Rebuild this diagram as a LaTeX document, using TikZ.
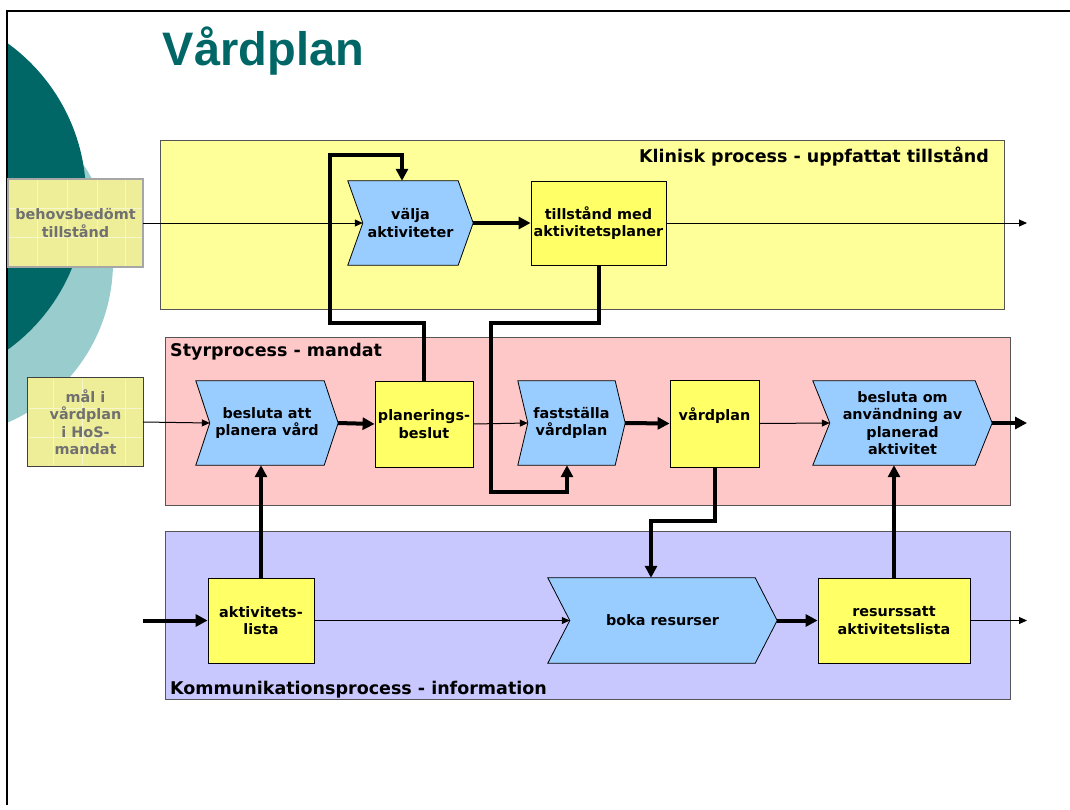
\documentclass[tikz,border=0pt]{standalone}
\usepackage{fontspec}
\setmainfont{DejaVu Sans}
\newfontfamily\titlefont{Liberation Sans}
\usetikzlibrary{arrows.meta,calc}
\pgfdeclarelayer{back}
\pgfdeclarelayer{mid}
\pgfsetlayers{back,mid,main}

\definecolor{tealdark}{HTML}{006666}
\definecolor{teallight}{HTML}{99CCCC}
\definecolor{laneY}{HTML}{FFFF99}
\definecolor{laneP}{HTML}{FFC8C8}
\definecolor{laneB}{HTML}{C8C8FF}
\definecolor{procB}{HTML}{99CCFF}
\definecolor{boxY}{HTML}{FFFF66}
\definecolor{inputY}{HTML}{EEEE99}
\definecolor{inputgrid}{HTML}{F6F6CC}
\definecolor{intext}{HTML}{707070}
\definecolor{lanebd}{HTML}{555555}

% chevron outline around a named node: #1 node, #2 notch depth
\newcommand\chevshape[2]{%
  \filldraw[fill=procB, draw=black, line width=0.8pt]
    (#1.north west) -- ($(#1.north east)+(-#2,0)$) -- (#1.east)
    -- ($(#1.south east)+(-#2,0)$) -- (#1.south west)
    -- ($(#1.west)+(#2,0)$) -- cycle;}

\begin{document}
\begin{tikzpicture}[x=1pt,y=-1pt,
  boxtext/.style={font=\bfseries\fontsize{14.4}{17.4}\selectfont, align=center, inner sep=0pt},
  doc/.style={boxtext, draw=black, line width=0.8pt, fill=boxY},
  proc/.style={boxtext},
  inbox/.style={boxtext, text=intext},
  lanebox/.style={draw=lanebd, line width=1pt},
  lanetitle/.style={font=\bfseries\fontsize{17.5}{20}\selectfont, inner sep=0pt},
  flowthick/.style={line width=4pt, -{Triangle[length=12pt,width=12pt]}},
  flowthin/.style={line width=1pt, -{Triangle[length=8pt,width=7pt]}},
]
\useasboundingbox (0,0) rectangle (1070,809);

% background: circles, frame and swimlanes
\begin{pgfonlayer}{back}
  \begin{scope}
    \clip (7,11) rectangle (1070,809);
    \fill[teallight] (-62,262) circle (175);
    \fill[tealdark] (-103,196.5) circle (189);
  \end{scope}
  \draw[line width=1.2pt] (1070,11) -- (7,11) -- (7,805);
  \path[lanebox, fill=laneY] (160,140) rectangle (1004,309);
  \path[lanebox, fill=laneP] (165,337) rectangle (1010,505);
  \path[lanebox, fill=laneB] (165,531) rectangle (1010,699);
\end{pgfonlayer}

% title
\node[font=\titlefont\bfseries\fontsize{47}{50}\selectfont, text=tealdark, anchor=base, inner sep=0pt]
  (title) at (263.5,65) {Vårdplan};

% lane titles
\node[lanetitle, anchor=base east] (lk) at (989,162) {Klinisk process - uppfattat tillstånd};
\node[lanetitle, anchor=base west] (ls) at (170,356) {Styrprocess - mandat};
\node[lanetitle, anchor=base west] (lc) at (170,694) {Kommunikationsprocess - information};

% input boxes
\node[inbox, minimum width=135, minimum height=88] (behov) at (75.5,223) {behovsbedömt\\tillstånd};
\node[inbox, minimum width=115, minimum height=88] (mal) at (85.5,422) {mål i\\vårdplan\\i HoS-\\mandat};

% clinical lane
\node[proc, minimum width=125, minimum height=84] (valja) at (410.5,223) {välja\\aktiviteter};
\node[doc, minimum width=135, minimum height=84] (tillst) at (598.5,223) {tillstånd med\\aktivitetsplaner};

% control lane
\node[proc, minimum width=142, minimum height=84] (besatt) at (267,423) {besluta att\\planera vård};
\node[doc, minimum width=98, minimum height=86] (plan) at (424,424) {planerings-\\beslut};
\node[proc, minimum width=107, minimum height=84] (fast) at (571.5,423) {fastställa\\vårdplan};
\node[doc, minimum width=89, minimum height=87] (vard) at (714.5,423.5) {};
\node[boxtext] (vardtxt) at ($(vard.center)+(0,-8)$) {vårdplan};
\node[proc, minimum width=179, minimum height=84] (besom) at (902.5,423) {besluta om\\användning av\\planerad\\aktivitet};

% communication lane
\node[doc, minimum width=106, minimum height=85] (akt) at (261,620.5) {aktivitets-\\lista};
\node[proc, minimum width=229, minimum height=85] (boka) at (662.5,620.5) {boka resurser};
\node[doc, minimum width=152, minimum height=85] (res) at (894,620.5) {resurssatt\\aktivitetslista};

% fills drawn beneath the labels
\begin{pgfonlayer}{mid}
  \chevshape{valja}{15}
  \chevshape{besatt}{14}
  \chevshape{fast}{10}
  \chevshape{besom}{17}
  \chevshape{boka}{22}
  \filldraw[fill=inputY, draw=black!35, line width=1.5pt] (behov.north west) rectangle (behov.south east);
  \begin{scope}[draw=inputgrid, line width=1pt]
    \foreach \gx in {37,67,97,125} \draw (\gx,180) -- (\gx,266);
    \foreach \gy in {208,237} \draw (9,\gy) -- (142,\gy);
    \foreach \gx in {53,82,125} \draw (\gx,379) -- (\gx,465);
    \foreach \gy in {408,437} \draw (29,\gy) -- (142,\gy);
  \end{scope}
  \filldraw[fill=none, draw=black!75, line width=1pt] (mal.north west) rectangle (mal.south east);
\end{pgfonlayer}
\begin{pgfonlayer}{back}
  \fill[inputY] (mal.north west) rectangle (mal.south east);
\end{pgfonlayer}

% free ends of the outgoing flows
\coordinate (outK) at (1027,223);
\coordinate (outS) at (1027,423);
\coordinate (outC) at (1027,620.5);
\coordinate (inC) at (143,620.5);

% clinical flows
\draw[flowthin] (behov.east) -- ($(valja.west)+(15,0)$);
\draw[flowthick] (valja.east) -- (tillst.west);
\draw[flowthin] (tillst.east) -- (outK);
\draw[flowthick] (plan.north) |- (330,323) -- (330,155) -| ($(valja.north)+(-8.5,0)$);
\draw[flowthick] (tillst.south) |- (491,323) -- (491,492) -| ($(fast.south)+(-4.5,0)$);

% control flows
\draw[flowthin] (mal.east) -- ($(besatt.west)+(14,0)$);
\draw[flowthick] (besatt.east) -- (plan.west);
\draw[flowthin] (plan.east) -- ($(fast.west)+(10,0)$);
\draw[flowthick] (fast.east) -- (vard.west);
\draw[flowthin] (vard.east) -- ($(besom.west)+(17,0)$);
\draw[flowthick] (besom.east) -- (outS);

% communication flows
\draw[flowthick] (vard.south) -- ++(0,53.5) -| ($(boka.north)+(-11.5,0)$);
\draw[flowthick] (res.north) -- (res.north |- besom.south);
\draw[flowthick] (akt.north) -- (akt.north |- besatt.south);
\draw[flowthick] (inC) -- (akt.west);
\draw[flowthin] (akt.east) -- ($(boka.west)+(22,0)$);
\draw[flowthick] (boka.east) -- (res.west);
\draw[flowthin] (res.east) -- (outC);
\end{tikzpicture}
\end{document}
